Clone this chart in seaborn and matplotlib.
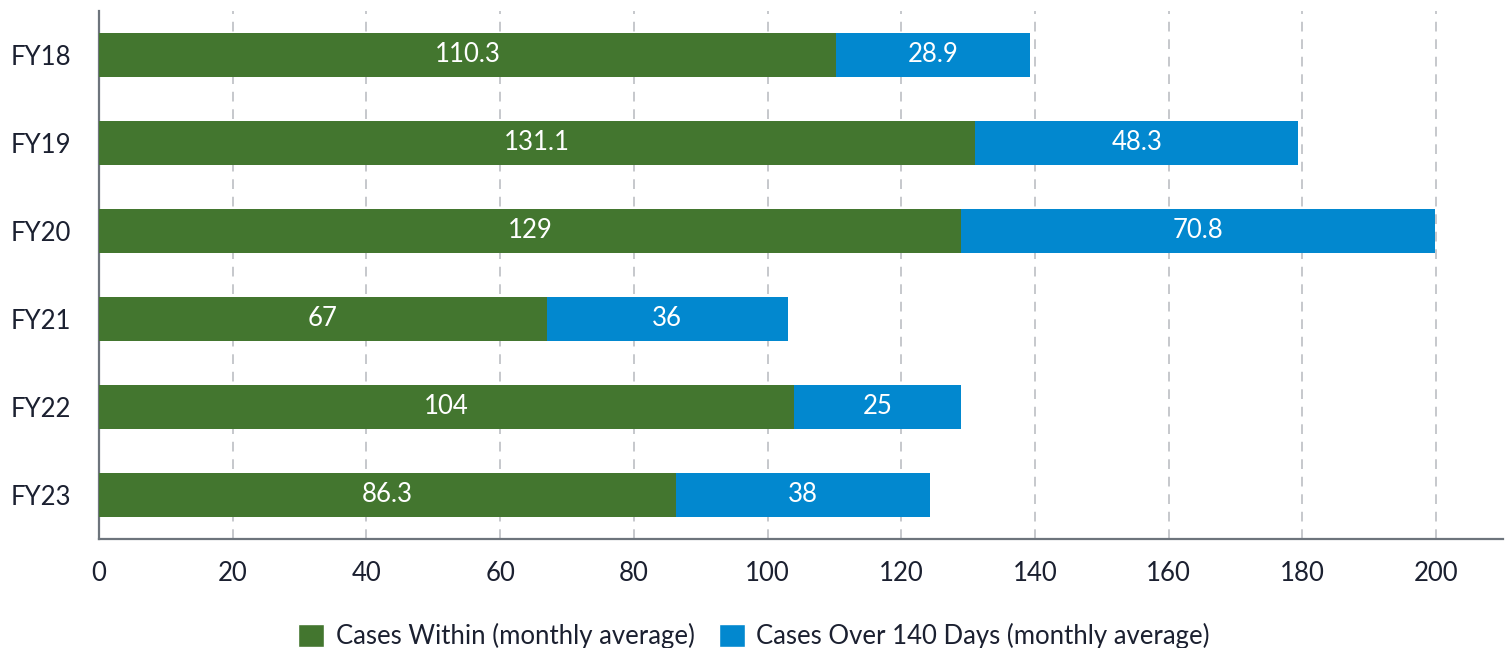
import matplotlib
matplotlib.use('Agg')
import seaborn as sns
import pandas as pd
import matplotlib.pyplot as plt
from matplotlib.patches import Patch

years = ['FY18', 'FY19', 'FY20', 'FY21', 'FY22', 'FY23']
within = [110.3, 131.1, 129, 67, 104, 86.3]
over_140 = [28.9, 48.3, 70.8, 36, 25, 38]
x_ticks = [0, 20, 40, 60, 80, 100, 120, 140, 160, 180, 200]

GREEN = '#43762f'
BLUE = '#0288cf'
TEXT = '#1b2030'
SPINE = '#6d747c'
FS = 18.5

df = pd.DataFrame({'year': years, 'within': within, 'over': over_140})
df['total'] = df['within'] + df['over']

sns.set_theme(style='white')
plt.rcParams['font.family'] = ['Lato', 'DejaVu Sans']

fig = plt.figure(figsize=(15.08, 6.48), dpi=100)
ax = fig.add_axes([99 / 1508, 1 - 539 / 648, 1404 / 1508, 528 / 648])

# stacked: draw totals first, then the inner segment on top
sns.barplot(data=df, x='total', y='year', orient='h', color=BLUE,
            saturation=1, width=0.5, ax=ax, zorder=3, linewidth=0)
sns.barplot(data=df, x='within', y='year', orient='h', color=GREEN,
            saturation=1, width=0.5, ax=ax, zorder=3, linewidth=0)

for i, (w, o) in enumerate(zip(df['within'], df['over'])):
    ax.text(w / 2, i, f'{w:g}', ha='center', va='center',
            color='white', fontsize=FS, zorder=4)
    ax.text(w + o / 2, i, f'{o:g}', ha='center', va='center',
            color='white', fontsize=FS, zorder=4)

ax.set_xlim(0, 210)
ax.set_ylim(5.5, -0.5)
ax.set_xticks(x_ticks)
ax.set_xlabel('')
ax.set_ylabel('')
ax.xaxis.grid(True, linestyle=(0, (5, 4)), color='#c6c8cc', linewidth=1.4, zorder=0)
ax.yaxis.grid(False)
ax.set_axisbelow(True)

for s in ['top', 'right']:
    ax.spines[s].set_visible(False)
for s in ['left', 'bottom']:
    ax.spines[s].set_color(SPINE)
    ax.spines[s].set_linewidth(1.6)

ax.tick_params(axis='x', length=0, pad=16, labelsize=FS, labelcolor=TEXT)
ax.tick_params(axis='y', length=0, pad=20, labelsize=FS, labelcolor=TEXT)

handles = [Patch(facecolor=GREEN, label='Cases Within (monthly average)'),
           Patch(facecolor=BLUE, label='Cases Over 140 Days (monthly average)')]
fig.legend(handles=handles, loc='center', bbox_to_anchor=(0.5, 1 - 636 / 648),
           ncol=2, frameon=False, fontsize=FS, labelcolor=TEXT,
           handlelength=1.0, handleheight=1.0, handletextpad=0.45,
           columnspacing=0.95, borderaxespad=0, borderpad=0)

fig.savefig('out.png', dpi=100)
